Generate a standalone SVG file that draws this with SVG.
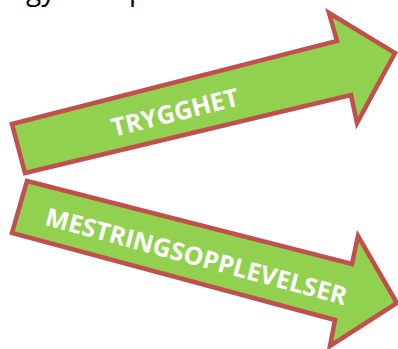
<svg xmlns="http://www.w3.org/2000/svg" width="398" height="349" viewBox="0 0 398 349">
<style>
.arrow{fill:#92D050;stroke:#C0504D;stroke-width:4.5;stroke-linejoin:miter}
.lbl{font-family:"Open Sans","Liberation Sans",sans-serif;font-weight:bold;fill:#FFFFFF;text-anchor:middle}
.top{font-family:"Open Sans","Liberation Sans",sans-serif;font-size:28px;fill:#000000}
</style>
<rect width="398" height="349" fill="#FFFFFF"/>
<g id="title"><text class="top" x="26" y="0">gy</text><text class="top" x="129" y="0">p</text></g>
<g id="trygghet">
<polygon class="arrow" points="12,124 337,41 329,13 395,53 357,123 351,95 25,173"/>
<text class="lbl" font-size="25" transform="translate(177,121) rotate(-14)">TRYGGHET</text>
</g>
<g id="mestring">
<polygon class="arrow" points="27,181 352,264 358,236 397,303 330,346 335,320 12,233"/>
<text class="lbl" font-size="25" transform="translate(194,265) rotate(15)">MESTRINGSOPPLEVELSER</text>
</g>
</svg>
